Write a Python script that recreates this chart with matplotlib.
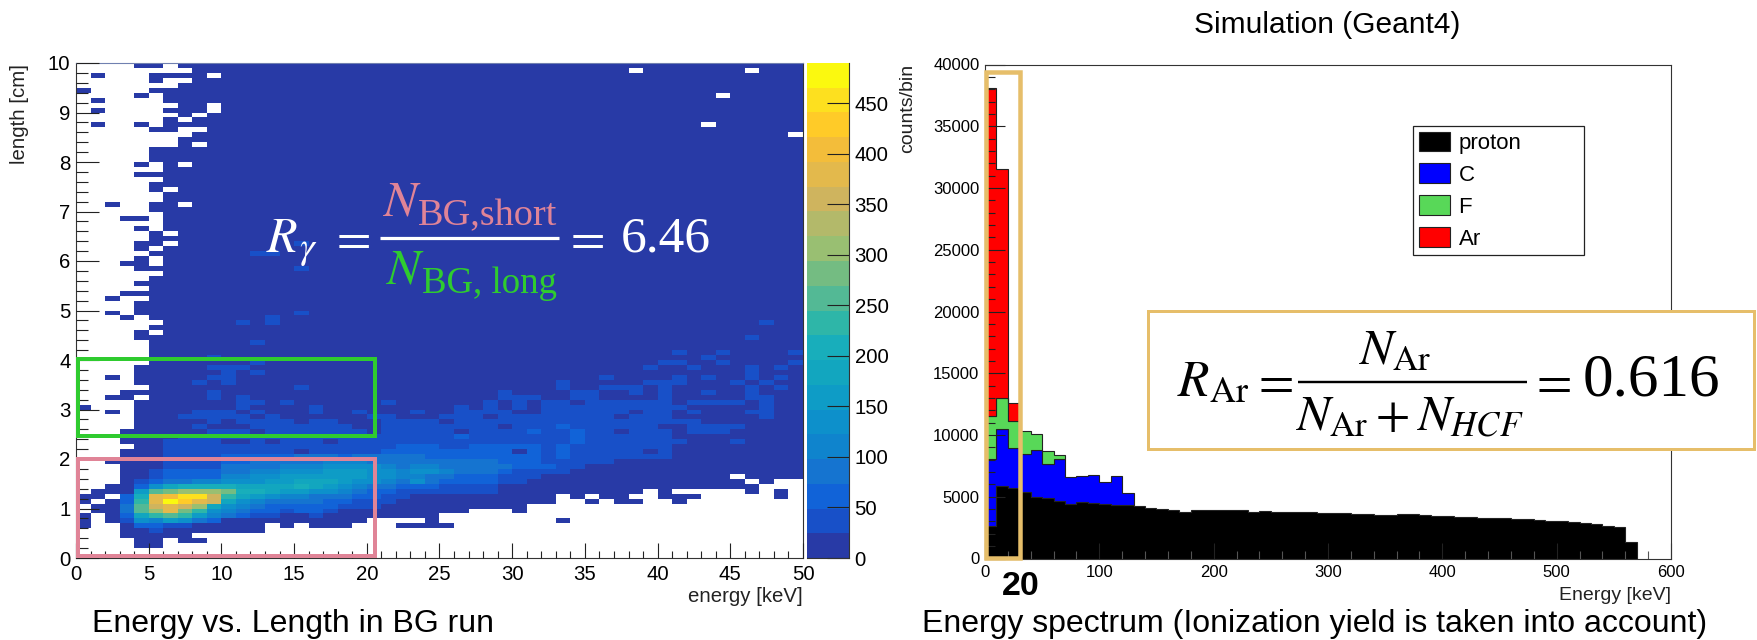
import numpy as np
import matplotlib
matplotlib.use("Agg")
import matplotlib.pyplot as plt
from matplotlib.colors import ListedColormap, BoundaryNorm
from matplotlib.patches import Rectangle
from matplotlib.ticker import MultipleLocator

plt.rcParams['font.family'] = ['Liberation Sans', 'DejaVu Sans']
plt.rcParams['mathtext.fontset'] = 'stix'

W, H = 1758, 640

# palette of the 20 contour levels, bottom to top
LEVEL_COLORS = ['#283AA6', '#1850C8', '#1163D8', '#1574D0', '#0F84CD', '#0D90CB', '#0E9CC6', '#12A6BF',
                '#18AEBB', '#2EB6A8', '#53B995', '#74BC82', '#99BF72', '#B3B96A', '#CFB45E', '#E3B94C',
                '#F3BD3A', '#FFCB28', '#FDE01F', '#FBF90F']
LEVEL_STEP = 24.5

# energy vs length map, one char per cell (level index, '.' = empty), top row first
LEVEL_ROWS = [
    "....00.000 0000000000 0000000000 0000000000 0000000000",
    "........00 0000000000 0000000000 00000000.0 000000.000",
    ".0...0000. 0000000000 0000000000 0000000000 0000000000",
    ".....0..00 0000000000 0000000000 0000000000 0000000000",
    ".......000 0000000000 0000000000 0000000000 0000000000",
    "0....00000 0000000000 0000000000 0000000000 0000000000",
    "....0.0000 0000000000 0000000000 0000000000 0000.00000",
    ".0....0000 0000000000 0000000000 0000000000 0000000000",
    ".......00. 0000000000 0000000000 0000000000 0000000000",
    ".0....000. 0000000000 0000000000 0000000000 0000000000",
    ".......0.0 0000000000 0000000000 0000000000 0000000000",
    "......0.00 0000000000 0000000000 0000000000 0000000000",
    ".0..0.0000 0000000000 0000000000 0000000000 000.000000",
    ".....00..0 0000000000 0000000000 0000000000 0000000000",
    "........00 0000000000 0000000000 0000000000 000000000.",
    ".......000 0000000000 0000000000 0000000000 0000000000",
    ".......0.0 0000000000 0000000000 0000000000 0000000000",
    ".....00000 0000000000 0000000000 0000000000 0000000000",
    ".....00000 0000000000 0000000000 0000000000 0000000000",
    ".....00000 0000000000 0000000000 0000000000 0000000000",
    "....0.0.00 0000000000 0000000000 0000000000 0000000000",
    "......0000 0000000000 0000000000 0000000000 0000000000",
    "....000000 0000000000 0000000000 0000000000 0000000000",
    "......0000 0000000000 0000000000 0000000000 0000000000",
    ".....00000 0000000000 0000000000 0000000000 0000000000",
    ".....0.000 0000000000 0000000000 0000000000 0000000000",
    "......0000 0000000000 0000000000 0000000000 0000000000",
    "......0000 0000000000 0000000000 0000000000 0000000000",
    "..0..00.00 0000000000 0000000000 0000000000 0000000000",
    ".....00000 0000000000 0000000000 0000000000 0000000000",
    "......0000 0000000000 0000000000 0000000000 0000000000",
    "...00.0000 0000000000 0000000000 0000000000 0000000000",
    "......0000 0000000000 0000000000 0000000000 0000000000",
    "....0.0000 0000000000 0000000000 0000000000 0000000000",
    ".....0.000 0000000000 0000000000 0000000000 0000000000",
    ".....00000 0000000000 0000000000 0000000000 0000000000",
    "....00.000 0000010000 0000000000 0000000000 0000000000",
    "....0.0000 0000000000 0000000000 0000000000 0000000000",
    ".....00000 0011000000 0000000000 0000000000 0000000000",
    "....0.0000 0000000000 0000000000 0000000000 0000000000",
    "...00.0000 0000000000 0000000000 0000000000 0000000000",
    "....000000 0000010000 0000000000 0000000000 0000000000",
    "......0000 0000000000 0000000000 0000000000 0000000000",
    ".....00000 0000000000 0000000000 0000000000 0000000000",
    "....000000 0000000000 0000000000 0000000000 0000000000",
    ".....00000 0000000000 0000000000 0000000000 0000000000",
    "...0000000 0000000000 0000000000 0000000000 0000000000",
    "..0..00000 0000000000 0000000000 0000000000 0000000000",
    "....000000 0000000000 0000000000 0000000000 0000000000",
    "....000000 0000000000 0000000000 0000000000 0000000000",
    "..0.000000 0000010000 0000000000 0000000000 0000000000",
    "...0.00000 0001000000 0000000000 0000000000 0000000000",
    "......0000 0101000000 0000000000 0000000000 0000000100",
    ".....00000 0000000000 0000000000 0000000000 0000000000",
    "....0.0000 0000000000 0000000000 0000000000 0000000000",
    "....000000 0000000000 0000000000 0000000000 0000001000",
    ".....00000 0010000000 0000000000 0000000000 0000000000",
    ".....00000 0000000000 0000000000 0000000000 0000000000",
    ".....00000 0000000000 0000000000 0000000000 0100100001",
    ".....00001 0000000000 0000000000 0000000000 0001000000",
    ".....00000 0010000000 0000000000 0000000000 1100100001",
    "....000001 1100000000 0000000000 0000000001 0010001010",
    "....000000 1010000000 0000000000 0000000000 0000001000",
    "..0.000001 1000000000 0000000000 0000001000 0101001010",
    "....000010 1000000000 0000000000 0001000001 1100010100",
    ".....00000 0000010000 0000000000 0001001110 1000001010",
    "...0000001 0000000000 0000000001 0000110010 1001001000",
    "..00.00001 0100000000 0000000001 1100110000 1000001100",
    "....000000 0110100000 0100000010 1011011111 1011110100",
    "0...000000 0100001000 0000001010 1011111111 1100000100",
    "..0.000011 1010001001 0001001111 0011111101 1010001100",
    "....000111 1101000000 1100011101 1111111011 1000000100",
    "....000001 0111101100 0111101111 1111111111 1110000000",
    "....000010 0011111110 0111111110 1112111111 0011110000",
    "...0000001 1101111111 0111110111 1211211011 1011100000",
    "...0000111 1111111111 1111112111 1111211111 1000000000",
    "...0001111 0010111011 1111111111 1111211111 1100010000",
    "....001111 1111111111 1122211222 2212111111 1000000000",
    "...0001111 1111101111 1222222222 0212111110 1000000000",
    "...0001111 2222233323 3333222222 2212111111 1000000000",
    "..00001111 2233333444 3333333332 2211111000 0000000000",
    "...0001111 3333444555 5434433333 2221100000 0000000000",
    "...0012222 3344555666 5545543332 1111000000 0000000000",
    "...0012222 4455666666 5544332221 1100000000 00000.0000",
    "...0123344 5556677765 5435322221 1000000000 000000.0..",
    "..00257888 8777787654 3322211110 0000000000 0000000...",
    ".0006abccc b887665543 2211111110 000000000. 0.....0.0.",
    "00.28fgiie 9765443332 2110000000 000.0.00.. 000.....0.",
    "0.029fjhfe 7543333221 1100000000 000..0.00. .0........",
    ".003aefec7 5432222211 1000000000 0......... ..........",
    ".003acfb95 4322122100 0000000... 0......... ..........",
    "0.0279a964 3211001000 00000..... .......... ..........",
    "0.01546532 0000000000 ....0..... ...0...... ..........",
    "0..0221100 000.0.000. ..0000.... .......... ..........",
    "...0010000 000....... .......... .......... ..........",
    "...00000.. .......... .......... .......... ..........",
    "....00.00. .......... .......... .......... ..........",
    "....00.... .......... .......... .......... ..........",
    ".......... .......... .......... .......... ..........",
    ".......... .......... .......... .......... ..........",
]
LEVEL_CHARS = "0123456789abcdefghij"
ENERGY_EDGES = np.arange(0, 51)
LENGTH_EDGES = np.arange(0, 101) / 10

# simulated spectrum, counts per 10 keV bin
proton = [2640, 5900, 5700, 5350, 5000, 4900, 4650, 4400, 4560, 4500, 4400, 4300, 4300, 4240, 4080, 3970, 3940, 3800,
          3940, 3950, 3950, 3960, 3900, 3800, 3820, 3770, 3750, 3780, 3750, 3720, 3680, 3650, 3640, 3600, 3560, 3530,
          3580, 3600, 3530, 3470, 3420, 3370, 3340, 3300, 3270, 3250, 3200, 3160, 3100, 3060, 3030, 2960, 2880, 2790,
          2640, 2580, 1360]
carbon = [5430, 4590, 3240, 3150, 3750, 2760, 3390, 2180, 2150, 2240, 1800, 2360, 970]
fluorine = [3430, 2510, 2160, 1850, 1300, 1040, 360]
argon = [26600, 18500, 1500]
species = ['proton', 'C', 'F', 'Ar']
species_colors = ['#000000', '#0000FF', '#58D858', '#FF0000']

caption_left = "Energy vs. Length in BG run"
caption_right = "Energy spectrum (Ionization yield is taken into account)"
title_right = "Simulation (Geant4)"


def px_axes(fig, x0, y0, x1, y1):
    # axes from pixel box, y measured from the top of the image
    return fig.add_axes([x0 / W, 1 - y1 / H, (x1 - x0) / W, (y1 - y0) / H])


def pt(px):
    return px * 0.72


fig = plt.figure(figsize=(W / 100, H / 100), dpi=100)

# left map
ax = px_axes(fig, 76, 63, 803, 558)
cells = np.full((100, 50), np.nan)
for i, row in enumerate(LEVEL_ROWS):
    for j, c in enumerate(row.replace(" ", "")):
        if c != '.':
            cells[99 - i, j] = (LEVEL_CHARS.index(c) + 0.5) * LEVEL_STEP
cmap = ListedColormap(LEVEL_COLORS)
bounds = np.arange(21) * LEVEL_STEP
norm = BoundaryNorm(bounds, cmap.N)
mesh = ax.pcolormesh(ENERGY_EDGES, LENGTH_EDGES, cells, cmap=cmap, norm=norm)
ax.set_xlim(0, 50)
ax.set_ylim(0, 10)
ax.xaxis.set_major_locator(MultipleLocator(5))
ax.xaxis.set_minor_locator(MultipleLocator(1))
ax.yaxis.set_major_locator(MultipleLocator(1))
ax.yaxis.set_minor_locator(MultipleLocator(0.2))
ax.tick_params(axis='x', which='major', direction='in', length=pt(15), width=0.8, labelsize=14.7, pad=5, color='#222222')
ax.tick_params(axis='x', which='minor', direction='in', length=pt(7), width=0.8, color='#222222')
ax.tick_params(axis='y', which='major', direction='in', length=pt(23), width=0.8, labelsize=14.7, pad=4, color='#222222')
ax.tick_params(axis='y', which='minor', direction='in', length=pt(12), width=0.8, color='#222222')
for s in ax.spines.values():
    s.set_linewidth(0.8)
    s.set_color('#333333')
ax.spines['top'].set_color('#7080B0')
ax.set_axisbelow(False)

cax = px_axes(fig, 807, 63, 849, 558)
cb = fig.colorbar(mesh, cax=cax, spacing='proportional', ticks=np.arange(0, 451, 50))
cb.outline.set_visible(False)
cax.spines['right'].set_visible(True)
cax.spines['right'].set_color('#333333')
cax.spines['right'].set_linewidth(0.8)
cax.spines['bottom'].set_visible(True)
cax.spines['bottom'].set_color('#333333')
cax.tick_params(axis='y', which='major', direction='in', length=pt(22), width=0.8, labelsize=14.7, pad=4, color='#222222')
cax.minorticks_off()

# right stacked histogram
ax2 = px_axes(fig, 985, 64.5, 1671, 558.5)
stack = [proton, carbon, fluorine, argon]
bottom = np.zeros(len(proton))
handles = []
for vals, name, col in zip(stack, species, species_colors):
    vals = np.array(vals, dtype=float)
    n = len(vals)
    edges = np.arange(n + 1) * 10
    top = bottom[:n] + vals
    h = ax2.stairs(top, edges, baseline=bottom[:n], fill=True, facecolor=col, edgecolor='#222222', linewidth=0.8, label=name)
    handles.append(h)
    bottom[:n] = top
ax2.set_xlim(0, 600)
ax2.set_ylim(0, 40000)
ax2.xaxis.set_major_locator(MultipleLocator(100))
ax2.xaxis.set_minor_locator(MultipleLocator(20))
ax2.yaxis.set_major_locator(MultipleLocator(5000))
ax2.yaxis.set_minor_locator(MultipleLocator(1000))
ax2.tick_params(axis='x', which='major', direction='in', length=pt(16), width=0.8, labelsize=12, pad=5, color='#222222')
ax2.tick_params(axis='x', which='minor', direction='in', length=pt(8), width=0.8, color='#555555')
ax2.tick_params(axis='y', which='major', direction='in', length=pt(20), width=0.8, labelsize=12, pad=4, color='#222222')
ax2.tick_params(axis='y', which='minor', direction='in', length=pt(10), width=0.8, color='#222222')
for s in ax2.spines.values():
    s.set_linewidth(0.8)
    s.set_color('#333333')

leg = ax2.legend(handles=handles, loc='upper left', bbox_to_anchor=(1413 / W, 1 - 249 / H, 171 / W, 123 / H),
                 bbox_transform=fig.transFigure, mode='expand', borderaxespad=0, fontsize=16, frameon=True,
                 fancybox=False, framealpha=1, edgecolor='#222222', handlelength=1.4, handleheight=1.0,
                 handletextpad=0.4, labelspacing=0.42, borderpad=0.25)
leg.get_frame().set_linewidth(0.9)

# annotation layer in pixels
ov = px_axes(fig, 0, 0, W, H)
ov.set_xlim(0, W)
ov.set_ylim(H, 0)
ov.axis('off')
ov.patch.set_alpha(0)

PINK = '#E08497'
GREEN = '#2FCB2F'
GOLD = '#E6BE6A'
ov.add_patch(Rectangle((78, 359), 297, 77, fill=False, edgecolor=GREEN, linewidth=pt(4)))
ov.add_patch(Rectangle((78, 458.5), 297, 97.5, fill=False, edgecolor=PINK, linewidth=pt(4)))
ov.add_patch(Rectangle((986, 71.5), 34, 486.5, fill=False, edgecolor=GOLD, linewidth=pt(4.5)))
ov.add_patch(Rectangle((1148, 310.5), 606, 138, facecolor='white', edgecolor=GOLD, linewidth=pt(3)))

# text labels
ov.text(803, 602, "energy [keV]", ha='right', va='baseline', fontsize=14.7, color='#222222')
ov.text(20, 64, "length [cm]", ha='center', va='top', rotation=90, fontsize=14.7, color='#222222')
ov.text(1671, 600, "Energy [keV]", ha='right', va='baseline', fontsize=14, color='#222222')
ov.text(908, 64, "counts/bin", ha='center', va='top', rotation=90, fontsize=14, color='#222222')
ov.text(92, 632, caption_left, ha='left', va='baseline', fontsize=23)
ov.text(922, 632, caption_right, ha='left', va='baseline', fontsize=23)
ov.text(1327, 33, title_right, ha='center', va='baseline', fontsize=21.5)
ov.text(1021, 595, "20", ha='center', va='baseline', fontsize=24.5, fontweight='bold')

# left formula, colours differ per part
SERIF = 'Liberation Serif'
ov.text(266, 252, r"$R$", color='white', fontsize=36, ha='left', va='baseline')
ov.text(299, 258, r"$\gamma$", color='white', fontsize=27, ha='left', va='baseline')
ov.text(329, 252, r"$=$", color='white', fontsize=36, ha='left', va='baseline')
ov.text(382, 215, r"$N$", color=PINK, fontsize=36, ha='left', va='baseline')
ov.text(418, 225, "BG,short", color=PINK, fontsize=27.5, family=SERIF, ha='left', va='baseline')
ov.plot([380, 559], [238, 238], color='white', lw=pt(3.2), solid_capstyle='butt')
ov.text(385, 283, r"$N$", color=GREEN, fontsize=36, ha='left', va='baseline')
ov.text(422, 293, "BG, long", color=GREEN, fontsize=26.5, family=SERIF, ha='left', va='baseline')
ov.text(563, 252, r"$=$", color='white', fontsize=36, ha='left', va='baseline')
ov.text(621, 252, "6.46", color='white', fontsize=37, family=SERIF, ha='left', va='baseline')

# right formula
ov.text(1177, 396, r"$R_{\mathrm{Ar}}$", color='black', fontsize=37, ha='left', va='baseline')
ov.text(1251, 396, r"$=$", color='black', fontsize=37, ha='left', va='baseline')
ov.text(1395, 364, r"$N_{\mathrm{Ar}}$", color='black', fontsize=36, ha='center', va='baseline')
ov.plot([1298, 1527], [382, 382], color='black', lw=pt(2.4), solid_capstyle='butt')
ov.text(1409, 430, r"$N_{\mathrm{Ar}}+N_{HCF}$", color='black', fontsize=36, ha='center', va='baseline')
ov.text(1529, 396, r"$=$", color='black', fontsize=37, ha='left', va='baseline')
ov.text(1583, 396, "0.616", color='black', fontsize=44, family=SERIF, ha='left', va='baseline')
ov.set_xlim(0, W)
ov.set_ylim(H, 0)

fig.savefig('out.png', dpi=100)
